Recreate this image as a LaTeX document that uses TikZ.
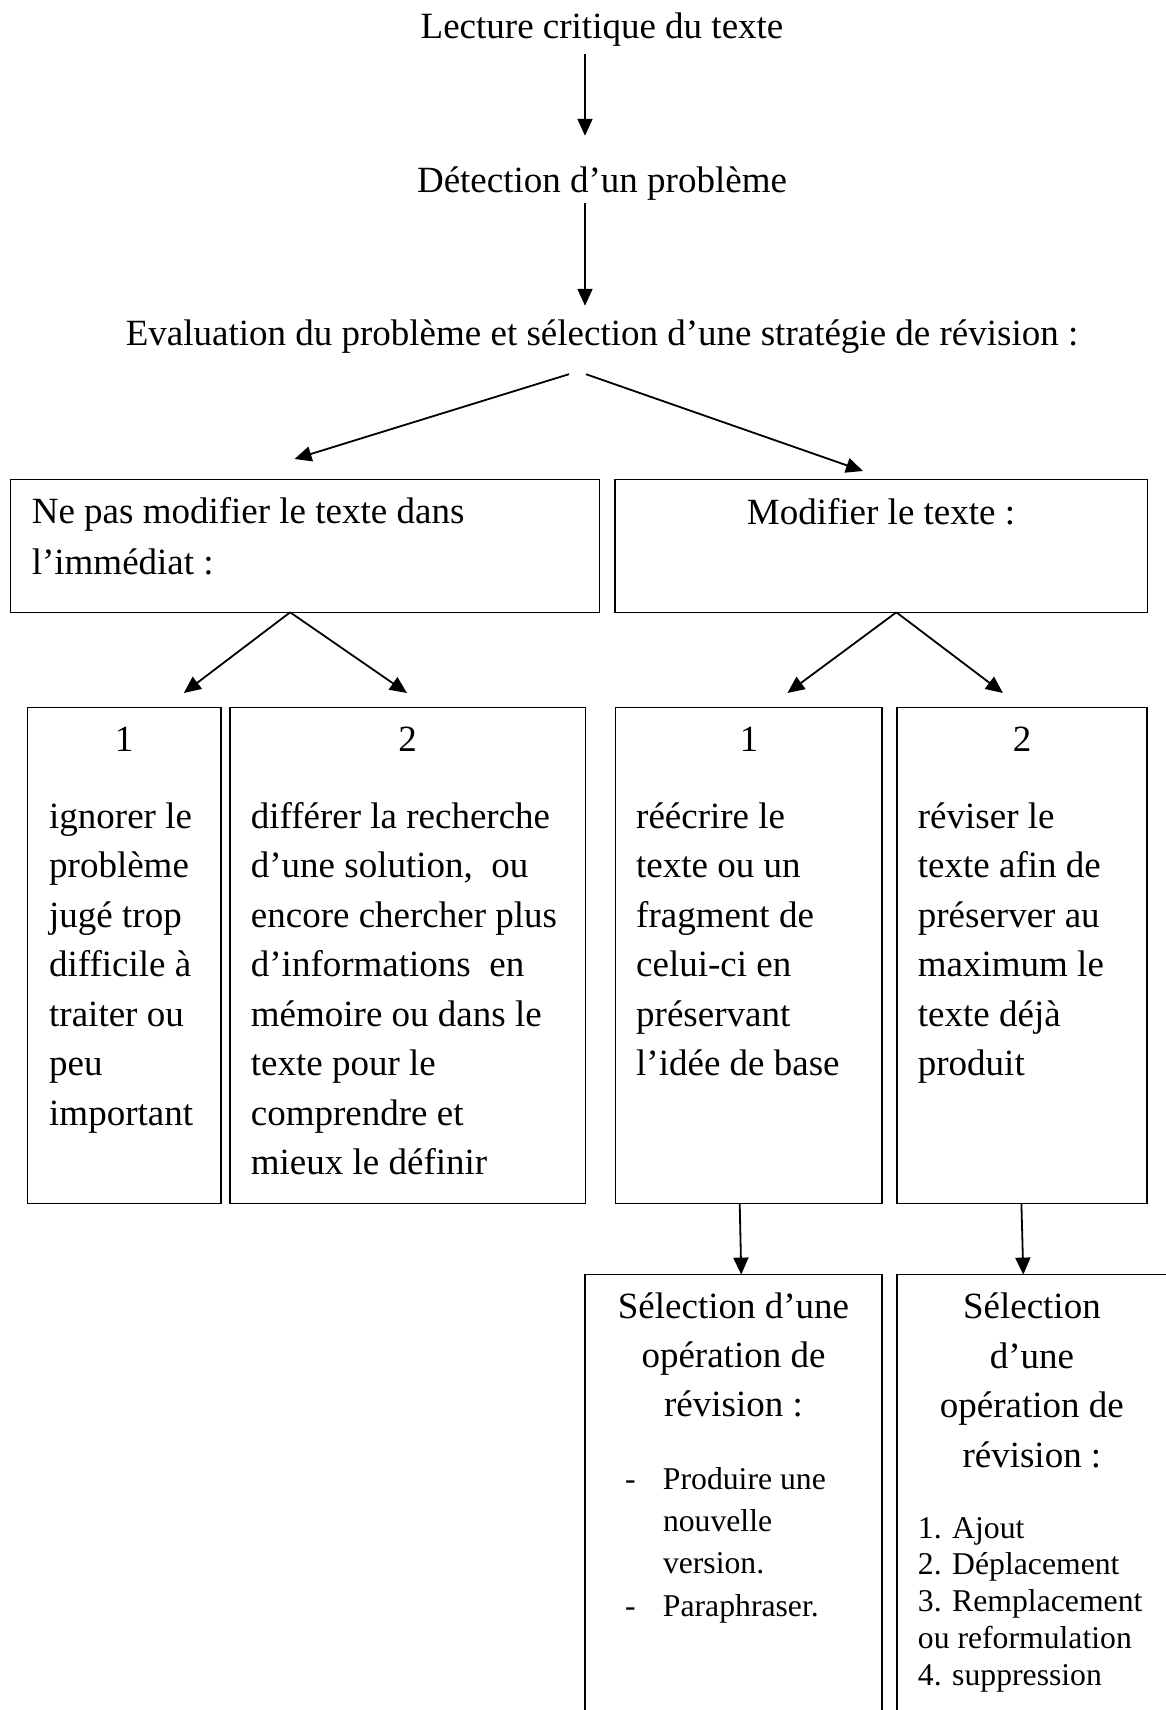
\documentclass[tikz,border=0pt]{standalone}
\usepackage{fontspec}
\setmainfont{Liberation Serif}
\usetikzlibrary{arrows.meta}
\begin{document}
\begin{tikzpicture}[x=1pt,y=-1pt,
  box/.style={draw, line width=1.5pt, inner sep=0pt, outer sep=0pt, anchor=north west},
  arr/.style={line width=1.8pt, -{Triangle[length=17pt,width=15pt]}},
  head/.style={inner sep=0pt, anchor=base, font=\fontsize{37}{50}\selectfont, text height=26pt, text depth=8pt},
  num/.style={inner sep=0pt, anchor=base, font=\fontsize{37}{50}\selectfont},
  bodyA/.style={inner sep=0pt, anchor=north west, align=left, font=\fontsize{37}{51}\selectfont},
  bodyL/.style={inner sep=0pt, anchor=north west, align=left, font=\fontsize{37}{49.5}\selectfont},
  headS/.style={inner sep=0pt, anchor=north, align=center},
  listS/.style={inner sep=0pt, anchor=north west, align=left}
]
\useasboundingbox (0,0) rectangle (1165,1710);
\fill[white] (0,0) rectangle (1165,1710);

% top titles
\node[head] (t1) at (602,39) {Lecture critique du texte};
\node[head] (t2) at (602,192) {Détection d’un problème};
\node[head] (t3) at (602,345) {Evaluation du problème et sélection d’une stratégie de révision :};

% level 1 boxes
\node[box, minimum width=588.9pt, minimum height=133pt] (A) at (10.7,479.3) {};
\node[box, minimum width=532.7pt, minimum height=133pt] (B) at (615,479.3) {};
\node[bodyA] (Atxt) at (31.6,487.8) {\strut Ne pas modifier le texte dans\\l’immédiat :};
\node[num] (Btxt) at (881,524) {Modifier le texte :};

% level 2 boxes
\node[box, minimum width=193.2pt, minimum height=496pt] (L1) at (27.6,707.3) {};
\node[box, minimum width=355.5pt, minimum height=496pt] (L2) at (230,707.3) {};
\node[box, minimum width=266.6pt, minimum height=496pt] (R1) at (615.4,707.3) {};
\node[box, minimum width=250.2pt, minimum height=496pt] (R2) at (896.8,707.3) {};

\node[num] (L1n) at (124,751.7) {1};
\node[num] (L2n) at (407.6,751.7) {2};
\node[num] (R1n) at (749,751.7) {1};
\node[num] (R2n) at (1022,751.7) {2};

\node[bodyL] (L1t) at (49,793.35) {\strut ignorer le\\problème\\jugé trop\\difficile à\\traiter ou\\peu\\important};
\node[bodyL] (L2t) at (250.7,793.35) {\strut différer la recherche\\d’une solution,\ \ ou\\encore chercher plus\\d’informations\ \ en\\mémoire ou dans le\\texte pour le\\comprendre et\\mieux le définir};
\node[bodyL] (R1t) at (636,793.35) {\strut réécrire le\\texte ou un\\fragment de\\celui-ci en\\préservant\\l’idée de base};
\node[bodyL] (R2t) at (917.7,793.35) {\strut réviser le\\texte afin de\\préserver au\\maximum le\\texte déjà\\produit};

% level 3 boxes
\node[box, minimum width=297.3pt, minimum height=460pt] (S1) at (584.9,1274.6) {};
\node[box, minimum width=270.2pt, minimum height=460pt] (S2) at (896.8,1274.6) {};

\node[headS, font=\fontsize{37}{49}\selectfont] (S1h) at (733.5,1284.2) {\strut Sélection d’une\\opération de\\révision :};
\node[listS, font=\fontsize{31.7}{42.3}\selectfont] (S1l) at (624.8,1459.4)
  {\strut\makebox[38pt][l]{-}Produire une\\\hspace*{38pt}nouvelle\\\hspace*{38pt}version.\\\makebox[38pt][l]{-}Paraphraser.};

\node[headS, font=\fontsize{37}{49.5}\selectfont] (S2h) at (1031.9,1283.85) {\strut Sélection\\d’une\\opération de\\révision :};
\node[listS, font=\fontsize{31.7}{36.8}\selectfont] (S2l) at (917.7,1512.2)
  {\strut 1. Ajout\\2. Déplacement\\3. Remplacement\\ou reformulation\\4. suppression};

% free arrow ends
\coordinate (eA) at (294.5,459);
\coordinate (eB) at (863,471);
\coordinate (eL1) at (183.8,693);
\coordinate (eL2) at (407,693);
\coordinate (eR1) at (787.4,693);
\coordinate (eR2) at (1002.9,693);

% connectors
\draw[arr, shorten <=7pt, shorten >=30pt] ([xshift=-17pt]t1.south) -- ([xshift=-17pt]t2.north);
\draw[arr, shorten <=3pt, shorten >=13pt] ([xshift=-17pt]t2.south) -- ([xshift=-17pt]t3.north);
\draw[arr] ([xshift=-33pt,yshift=-21pt]t3.south) -- (eA);
\draw[arr] ([xshift=-16pt,yshift=-21pt]t3.south) -- (eB);
\draw[arr] ([xshift=-15pt]A.south) -- (eL1);
\draw[arr] ([xshift=-15pt]A.south) -- (eL2);
\draw[arr] ([xshift=15pt]B.south) -- (eR1);
\draw[arr] ([xshift=15pt]B.south) -- (eR2);
\draw[arr] ([xshift=-9pt]R1.south) -- ([xshift=7.7pt]S1.north);
\draw[arr] ([xshift=-0.5pt]R2.south) -- ([xshift=-8.6pt]S2.north);
\end{tikzpicture}
\end{document}
